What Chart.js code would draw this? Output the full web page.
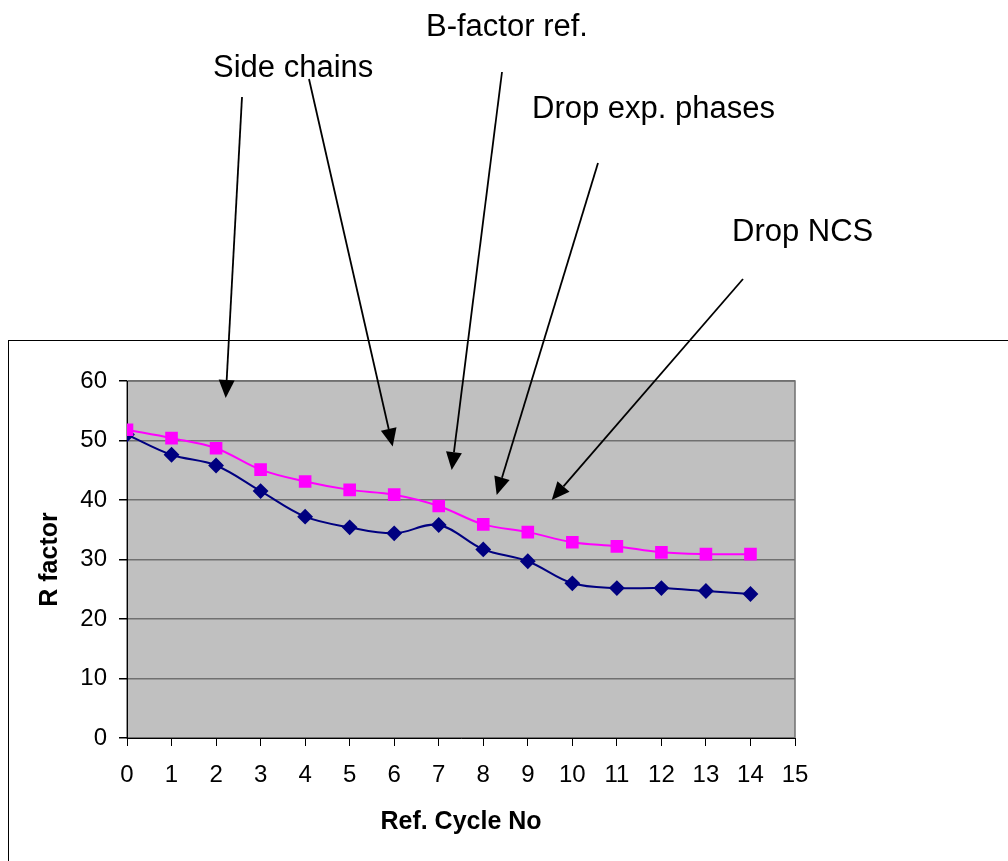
<!DOCTYPE html>
<html>
<head>
<meta charset="utf-8">
<script src="https://cdn.jsdelivr.net/npm/chart.js@4.4.0/dist/chart.umd.min.js"></script>
<style>
  html, body { margin: 0; padding: 0; background: #fff; }
  #wrap { width: 1008px; height: 861px; position: relative; }
</style>
</head>
<body>
<div id="wrap"><canvas id="rChart" width="1008" height="861"></canvas></div>
<script>
// refinement cycles
const cycles = [0, 1, 2, 3, 4, 5, 6, 7, 8, 9, 10, 11, 12, 13, 14];
// upper curve (magenta squares)
const rFree = [51.8, 50.4, 48.7, 45.1, 43.1, 41.7, 40.9, 39.0, 35.9, 34.6, 32.9, 32.2, 31.2, 30.9, 30.9];
// lower curve (navy diamonds)
const rWork = [51.0, 47.6, 45.8, 41.5, 37.2, 35.4, 34.4, 35.8, 31.7, 29.7, 26.0, 25.2, 25.2, 24.7, 24.2];

// labels written above the chart with their arrows
const notes = [
  { text: "Side chains", x: 213, y: 77 },
  { text: "B-factor ref.", x: 426, y: 36 },
  { text: "Drop exp. phases", x: 532, y: 118 },
  { text: "Drop NCS", x: 732, y: 241 }
];
const arrows = [
  [242, 97, 225.7, 398],
  [309, 79, 392.7, 446.5],
  [502, 72, 451.7, 470],
  [598, 163, 496.7, 495],
  [743, 279, 551.7, 500]
];

function toPoints(ys) {
  return cycles.map((c, i) => ({ x: c, y: ys[i] }));
}

function drawArrow(ctx, x1, y1, x2, y2) {
  const ang = Math.atan2(y2 - y1, x2 - x1);
  const len = 18, half = 8;
  const bx = x2 - len * Math.cos(ang), by = y2 - len * Math.sin(ang);
  ctx.beginPath();
  ctx.moveTo(x1, y1);
  ctx.lineTo(bx, by);
  ctx.stroke();
  ctx.beginPath();
  ctx.moveTo(x2, y2);
  ctx.lineTo(bx + half * Math.sin(ang), by - half * Math.cos(ang));
  ctx.lineTo(bx - half * Math.sin(ang), by + half * Math.cos(ang));
  ctx.closePath();
  ctx.fill();
}

const decor = {
  id: "decor",
  beforeDraw(chart) {
    const { ctx, chartArea: a } = chart;
    ctx.save();
    // outer chart box
    ctx.strokeStyle = "#000";
    ctx.lineWidth = 1;
    ctx.strokeRect(8.5, 340.5, 1200, 700);
    // plot area
    ctx.fillStyle = "#c0c0c0";
    ctx.fillRect(a.left, a.top, a.right - a.left, a.bottom - a.top);
    ctx.strokeStyle = "#707070";
    ctx.lineWidth = 1.5;
    ctx.strokeRect(a.left, a.top, a.right - a.left, a.bottom - a.top);
    ctx.restore();
  },
  afterDraw(chart) {
    const ctx = chart.ctx;
    ctx.save();
    ctx.fillStyle = "#000";
    ctx.strokeStyle = "#000";
    ctx.lineWidth = 1.8;
    ctx.font = "31px 'Liberation Sans', Arial, sans-serif";
    ctx.textAlign = "left";
    ctx.textBaseline = "alphabetic";
    notes.forEach(n => ctx.fillText(n.text, n.x, n.y));
    arrows.forEach(a => drawArrow(ctx, a[0], a[1], a[2], a[3]));
    ctx.restore();
  }
};

const tickFont = { family: "'Liberation Sans', Arial, sans-serif", size: 24 };
const titleFont = { family: "'Liberation Sans', Arial, sans-serif", size: 25, weight: "bold" };

new Chart(document.getElementById("rChart").getContext("2d"), {
  type: "line",
  data: {
    datasets: [
      {
        label: "R free",
        data: toPoints(rFree),
        borderColor: "#ff00ff",
        backgroundColor: "#ff00ff",
        borderWidth: 2,
        pointStyle: "rect",
        pointRadius: 7.5,
        pointHoverRadius: 7.5,
        tension: 0.35
      },
      {
        label: "R work",
        data: toPoints(rWork),
        borderColor: "#000080",
        backgroundColor: "#000080",
        borderWidth: 2,
        pointStyle: "rectRot",
        pointRadius: 6.5,
        pointHoverRadius: 6.5,
        tension: 0.35
      }
    ]
  },
  options: {
    responsive: false,
    animation: false,
    layout: { padding: { top: 381, right: 213, bottom: 0, left: 0 } },
    plugins: {
      legend: { display: false },
      tooltip: { enabled: false }
    },
    scales: {
      x: {
        type: "linear",
        min: 0,
        max: 15,
        afterFit(scale) { scale.height = 123; },
        ticks: { stepSize: 1, color: "#000", font: tickFont, padding: 15, maxRotation: 0 },
        grid: { drawOnChartArea: false, drawTicks: true, tickLength: 8, tickColor: "#000" },
        border: { color: "#000", width: 1 },
        title: { display: true, text: "Ref. Cycle No", color: "#000", font: titleFont, padding: { top: 0, bottom: 24 } }
      },
      y: {
        min: 0,
        max: 60,
        afterFit(scale) { scale.width = 127; },
        ticks: { stepSize: 10, color: "#000", font: tickFont, padding: 12 },
        grid: { color: "#707070", lineWidth: 1.5, tickLength: 8, tickColor: "#000" },
        border: { color: "#000", width: 1 },
        title: { display: true, text: "R factor", color: "#000", font: titleFont, padding: { top: 35, bottom: 0 } }
      }
    }
  },
  plugins: [decor]
});
</script>
</body>
</html>
